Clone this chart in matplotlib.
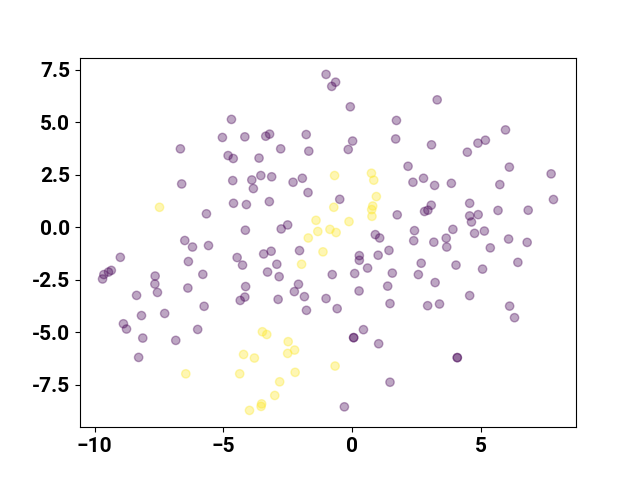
import numpy as np
import matplotlib.pyplot as plt
from matplotlib.ticker import MultipleLocator, FormatStrFormatter

# class 0 (purple) points
x0 = [-6.67, -6.62, -5.66, -6.50, -6.20, -5.58, -1.02, -0.65, -0.80, -4.69,
      -5.04, -4.17, -3.36, -3.21, -1.79, -2.78, -1.69, -4.82, -4.62, -3.62,
      -4.64, -3.90, -3.55, -3.13, -3.84, -2.30, -1.94, -1.72, -4.61, -4.11,
      -3.22, -4.15, -2.76, -2.51, -0.08, 3.29, 1.71, 0.01, -0.16, 1.68,
      3.07, 2.16, 2.35, 2.76, 3.19, 3.84, -0.49, 1.74, 3.06, 2.80,
      2.93, 2.41, 2.38, 0.89, 1.06, 3.16, 3.64, 3.90, 5.94, 4.87,
      5.16, 4.46, 6.09, 7.71, 5.72, 7.80, 4.55, 4.55, 4.88, 4.62,
      5.65, 6.82, 3.66, 4.74, 5.12, 6.06, 6.78, 5.35, -9.00, -9.35,
      -9.46, -9.64, -9.69, -6.36, -5.80, -7.65, -7.66, -7.56, -8.37, -6.38,
      -5.75, -8.18, -7.28, -8.88, -8.76, -6.00, -8.13, -6.85, -8.29, -4.47,
      -4.26, -3.44, -3.15, -2.05, -2.93, -3.29, -2.84, -4.14, -4.17, -4.35,
      -2.88, -2.09, -2.25, -1.86, -1.78, -1.02, -0.78, 0.27, 0.27, 1.00,
      1.42, 0.59, 0.09, 1.55, 2.67, 2.56, 3.21, 1.37, 0.26, -0.59,
      1.46, 2.92, 3.38, 0.43, 0.05, 0.05, 1.02, 1.46, -0.31, 4.02,
      5.05, 6.42, 4.55, 6.10, 6.29, 4.07, 4.07]
y0 = [3.73, 2.06, 0.64, -0.63, -0.94, -0.87, 7.27, 6.90, 6.70, 5.13,
      4.27, 4.30, 4.33, 4.43, 4.41, 3.73, 3.62, 3.41, 3.27, 3.29,
      2.22, 2.25, 2.46, 2.40, 1.84, 2.14, 2.33, 1.65, 1.14, 1.08,
      1.22, -0.14, -0.08, 0.11, 5.73, 6.06, 5.08, 4.10, 3.70, 4.20,
      3.92, 2.90, 2.14, 2.33, 1.99, 2.09, 1.33, 0.59, 1.05, 0.75,
      0.81, -0.16, -0.64, -0.35, -0.51, -0.71, -0.52, -0.10, 4.63, 4.00,
      4.14, 3.57, 2.86, 2.54, 2.03, 1.32, 1.14, 0.54, 0.60, 0.25,
      0.80, 0.81, -0.94, -0.29, -0.18, -0.56, -0.72, -0.98, -1.43, -2.05,
      -2.13, -2.25, -2.46, -1.63, -2.24, -2.32, -2.70, -3.10, -3.24, -2.89,
      -3.76, -4.20, -4.10, -4.59, -4.84, -4.86, -5.27, -5.38, -6.19, -1.44,
      -1.80, -1.27, -1.14, -1.11, -1.76, -2.13, -2.35, -2.82, -3.32, -3.48,
      -3.43, -2.71, -3.06, -3.30, -3.95, -3.39, -2.25, -1.35, -1.57, -1.33,
      -1.10, -1.94, -2.20, -2.18, -1.71, -2.25, -2.63, -2.80, -3.03, -3.87,
      -3.63, -3.73, -3.65, -4.87, -5.25, -5.25, -5.54, -7.37, -8.54, -1.80,
      -1.99, -1.67, -3.25, -3.75, -4.30, -6.20, -6.20]

# class 1 (yellow) points
x1 = [-7.48, -1.41, -1.34, -1.71, -0.87, -0.72, -0.69, 0.74, 0.83, 0.93,
      0.79, 0.75, 0.76, -0.13, -0.63, -1.14, -1.97, -3.49, -3.32, -2.49,
      -2.24, -2.51, -4.22, -3.80, -4.37, -2.22, -2.82, -3.01, -3.52, -3.54,
      -3.99, -6.46, -0.67]
y1 = [0.95, 0.33, -0.20, -0.51, -0.10, 0.95, 2.46, 2.57, 2.24, 1.46,
      1.01, 0.84, 0.52, 0.27, -0.25, -1.17, -1.76, -4.97, -5.10, -5.44,
      -5.84, -6.00, -6.05, -6.22, -6.97, -6.90, -7.35, -8.00, -8.40, -8.52,
      -8.71, -6.97, -6.60]

x = np.array(x0 + x1)
y = np.array(y0 + y1)
labels = np.array([0] * len(x0) + [1] * len(x1))

plt.rcParams['font.family'] = ['Roboto', 'DejaVu Sans']
plt.rcParams['font.weight'] = 'bold'

fig, ax = plt.subplots(figsize=(6.4, 4.8), dpi=100)
ax.scatter(x, y, c=labels, cmap='viridis', alpha=0.35)
ax.xaxis.set_major_locator(MultipleLocator(5))
ax.yaxis.set_major_locator(MultipleLocator(2.5))
ax.yaxis.set_major_formatter(FormatStrFormatter('%.1f'))
ax.tick_params(labelsize=15)
for lab in ax.get_xticklabels() + ax.get_yticklabels():
    lab.set_fontweight('bold')

fig.savefig('out.png')
